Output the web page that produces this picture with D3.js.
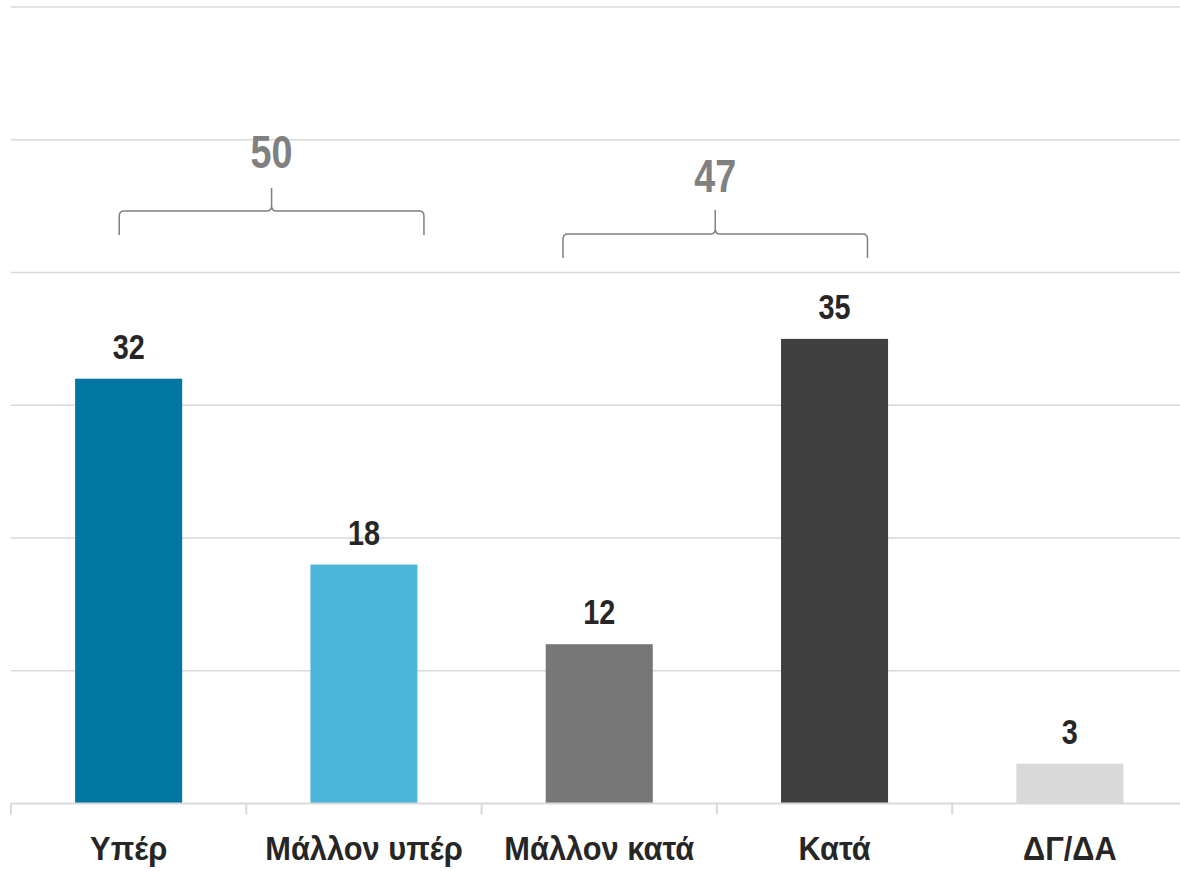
<!DOCTYPE html>
<html>
<head>
<meta charset="utf-8">
<script src="https://cdn.jsdelivr.net/npm/d3@7"></script>
<style>
  html, body { margin: 0; padding: 0; background: #fff; }
  svg { display: block; }
  text { font-family: "Liberation Sans Narrow", "Arial Narrow", "Liberation Sans", Arial, sans-serif; font-weight: bold; }
</style>
</head>
<body>
<svg id="chart" width="1180" height="871"></svg>
<script>
const categories = ["Υπέρ", "Μάλλον υπέρ", "Μάλλον κατά", "Κατά", "ΔΓ/ΔΑ"];
const values = [32, 18, 12, 35, 3];
const barColors = ["#0077A2", "#4DB6DB", "#777777", "#404040", "#D9D9D9"];
const yTicks = [0, 10, 20, 30, 40, 50, 60];
const groupLabels = ["50", "47"];
const groupFrom = ["Υπέρ", "Μάλλον κατά"];
const groupTo = ["Μάλλον υπέρ", "Κατά"];

const svg = d3.select("#chart");
const x = d3.scaleBand().domain(categories).range([11, 1187.5]).padding(0);
const y = d3.scaleLinear().domain([0, 60]).range([803.5, 7]);
const barW = x.bandwidth() * 0.455;

// gridlines
svg.append("g").selectAll("line").data(yTicks.filter(d => d > 0)).join("line")
  .attr("x1", 11).attr("x2", 1180)
  .attr("y1", d => y(d)).attr("y2", d => y(d))
  .attr("stroke", "#D9D9D9").attr("stroke-width", 1.5);

// bars
svg.append("g").selectAll("rect").data(values).join("rect")
  .attr("x", (d, i) => x(categories[i]) + (x.bandwidth() - barW) / 2)
  .attr("width", barW)
  .attr("y", d => y(d))
  .attr("height", d => y(0) - y(d))
  .attr("fill", (d, i) => barColors[i]);

// x axis
const xAxis = d3.axisBottom(x).tickSize(0).tickFormat("");
const ax = svg.append("g").attr("transform", `translate(0,${y(0)})`).call(xAxis);
ax.select(".domain").remove();
ax.append("line").attr("x1", 11).attr("x2", 1180).attr("y1", 0).attr("y2", 0)
  .attr("stroke", "#D9D9D9").attr("stroke-width", 2);
ax.selectAll(".sep").data(categories).join("line").attr("class", "sep")
  .attr("x1", d => x(d)).attr("x2", d => x(d)).attr("y1", 0).attr("y2", 11)
  .attr("stroke", "#D9D9D9").attr("stroke-width", 2);

// category labels
svg.append("g").selectAll("text").data(categories).join("text")
  .attr("transform", d => `translate(${x(d) + x.bandwidth() / 2},860) scale(0.92,1)`)
  .attr("text-anchor", "middle")
  .attr("font-size", 33.5)
  .attr("fill", "#262626")
  .text(d => d);

// value labels
svg.append("g").selectAll("text").data(values).join("text")
  .attr("transform", (d, i) => `translate(${x(categories[i]) + x.bandwidth() / 2},${y(d) - 20}) scale(0.8,1)`)
  .attr("text-anchor", "middle")
  .attr("font-size", 36)
  .attr("fill", "#262626")
  .text(d => d);

// brackets
const brLayout = [
  { l: 0.46, r: 0.755, top: 211, end: 235, tip: 188, textY: 168 },
  { l: 0.346, r: 0.64, top: 234, end: 258, tip: 210, textY: 192 }
];
groupLabels.forEach((lab, i) => {
  const b = brLayout[i];
  const x1 = x(groupFrom[i]) + x.bandwidth() * b.l;
  const x2 = x(groupTo[i]) + x.bandwidth() * b.r;
  const xm = (x1 + x2) / 2;
  const r = 5;
  const p = d3.path();
  p.moveTo(x1, b.end);
  p.lineTo(x1, b.top + r);
  p.quadraticCurveTo(x1, b.top, x1 + r, b.top);
  p.lineTo(xm - r, b.top);
  p.quadraticCurveTo(xm, b.top, xm, b.top - r);
  p.lineTo(xm, b.tip);
  p.moveTo(xm, b.top - r);
  p.quadraticCurveTo(xm, b.top, xm + r, b.top);
  p.lineTo(x2 - r, b.top);
  p.quadraticCurveTo(x2, b.top, x2, b.top + r);
  p.lineTo(x2, b.end);
  svg.append("path").attr("d", p.toString())
    .attr("fill", "none").attr("stroke", "#808080").attr("stroke-width", 1.5);
  svg.append("text").attr("transform", `translate(${xm},${b.textY}) scale(0.82,1)`)
    .attr("text-anchor", "middle").attr("font-size", 46)
    .attr("fill", "#808080").text(lab);
});
</script>
</body>
</html>
